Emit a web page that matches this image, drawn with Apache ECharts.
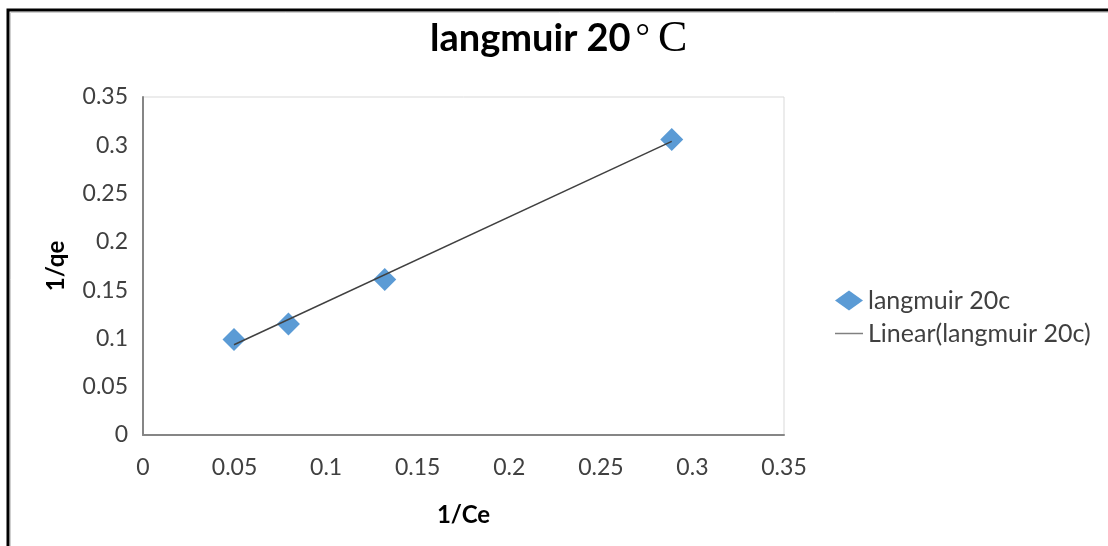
<!DOCTYPE html>
<html>
<head>
<meta charset="utf-8">
<script src="https://cdn.jsdelivr.net/npm/echarts@6/dist/echarts.min.js"></script>
<style>
html,body{margin:0;padding:0;background:#fff;}
#chart{width:1108px;height:546px;}
</style>
</head>
<body>
<div id="chart"></div>
<script>
// Data
const seriesName = 'langmuir 20c';
const trendName = 'Linear(langmuir 20c)';
const xValues = [0.0497, 0.0794, 0.132, 0.2887];   // 1/Ce
const yValues = [0.099, 0.115, 0.161, 0.306];      // 1/qe
const trendX = [0.0497, 0.2887];
const trendY = [0.0935, 0.304];
const axisTicks = [0, 0.05, 0.1, 0.15, 0.2, 0.25, 0.3, 0.35];

const chart = echarts.init(document.getElementById('chart'));
const txt = '#404040';
const axisStyle = {lineStyle: {color: '#868686', width: 2}};
chart.setOption({
  backgroundColor: '#fff',
  animation: false,
  title: {
    text: '{a|langmuir 20}{b|°}{c|C}',
    left: 430,
    top: 17,
    padding: 0,
    textStyle: {
      rich: {
        a: {fontFamily: 'Lato', fontWeight: 'bold', fontSize: 38, color: '#000'},
        b: {fontFamily: 'Liberation Serif', fontWeight: 'normal', fontSize: 36, color: '#000', padding: [0, 0, 0, 5]},
        c: {fontFamily: 'Liberation Serif', fontWeight: 'normal', fontSize: 44, color: '#000', padding: [0, 0, 0, 8]}
      }
    }
  },
  graphic: [
    {type: 'rect', shape: {x: 8, y: 10, width: 1200, height: 600}, style: {fill: 'none', stroke: '#000', lineWidth: 3}, silent: true},
    {type: 'rect', shape: {x: 10.5, y: 12.5, width: 1200, height: 600}, style: {fill: 'none', stroke: '#cfcfcf', lineWidth: 1}, silent: true}
  ],
  grid: {left: 143, right: 324, top: 97, bottom: 111, show: true, borderColor: '#d9d9d9', borderWidth: 1},
  legend: {
    orient: 'vertical',
    left: 835,
    top: 288,
    padding: 0,
    itemWidth: 28,
    itemHeight: 20,
    itemGap: 8,
    textStyle: {fontFamily: 'Lato', fontSize: 25, color: txt, lineHeight: 23},
    data: [
      {name: seriesName, icon: 'diamond'},
      {name: trendName, icon: 'path://M0,0 L28,0 L28,1.5 L0,1.5 Z', itemStyle: {color: '#808080'}}
    ]
  },
  xAxis: {
    type: 'value',
    min: axisTicks[0],
    max: axisTicks[axisTicks.length - 1],
    interval: 0.05,
    name: '1/Ce',
    nameLocation: 'middle',
    nameGap: 68,
    nameTextStyle: {fontFamily: 'Lato', fontWeight: 'bold', fontSize: 24, color: '#000'},
    axisLine: axisStyle,
    axisTick: {show: false},
    splitLine: {show: false},
    axisLabel: {fontFamily: 'Lato', fontSize: 23, color: txt, margin: 21}
  },
  yAxis: {
    type: 'value',
    min: axisTicks[0],
    max: axisTicks[axisTicks.length - 1],
    interval: 0.05,
    name: '1/qe',
    nameLocation: 'middle',
    nameGap: 75,
    nameTextStyle: {fontFamily: 'Lato', fontWeight: 'bold', fontSize: 24, color: '#000'},
    axisLine: axisStyle,
    axisTick: {show: false},
    splitLine: {show: false},
    axisLabel: {fontFamily: 'Lato', fontSize: 23, color: txt, margin: 15}
  },
  series: [
    {
      name: trendName,
      type: 'line',
      data: trendX.map((x, i) => [x, trendY[i]]),
      showSymbol: false,
      lineStyle: {color: '#404040', width: 1.5},
      itemStyle: {color: '#808080'},
      z: 3
    },
    {
      name: seriesName,
      type: 'scatter',
      symbol: 'diamond',
      symbolSize: 23,
      data: xValues.map((x, i) => [x, yValues[i]]),
      itemStyle: {color: '#5B9BD5', opacity: 1},
      z: 2
    }
  ]
});
</script>
</body>
</html>
